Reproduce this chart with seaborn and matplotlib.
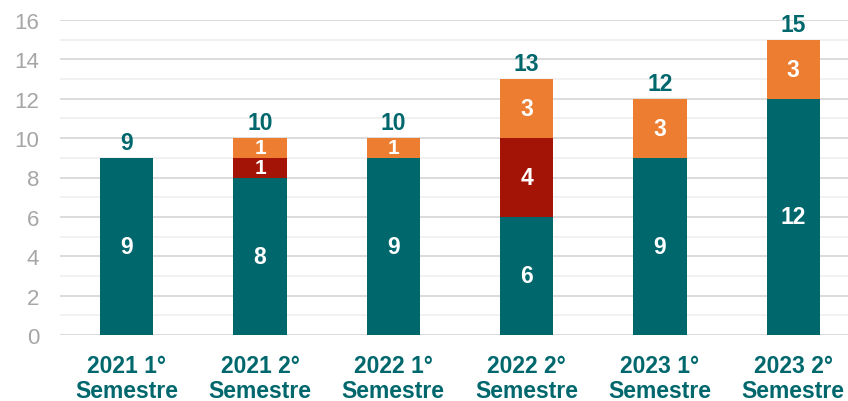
import matplotlib
matplotlib.use("Agg")
import matplotlib.pyplot as plt
import seaborn as sns
import numpy as np

categories = ["2021 1°\nSemestre", "2021 2°\nSemestre", "2022 1°\nSemestre",
              "2022 2°\nSemestre", "2023 1°\nSemestre", "2023 2°\nSemestre"]
teal_vals = [9, 8, 9, 6, 9, 12]
red_vals = [0, 1, 0, 4, 0, 0]
orange_vals = [0, 1, 1, 3, 3, 3]
y_ticks = [0, 2, 4, 6, 8, 10, 12, 14, 16]

TEAL = "#00686D"
RED = "#A31406"
ORANGE = "#ED7D31"

sns.set_style("white")
plt.rcParams["font.family"] = ["Liberation Sans", "DejaVu Sans"]

fig = plt.figure(figsize=(8.48, 4.02), dpi=100)
ax = fig.add_axes([60 / 848, 66 / 402, 800 / 848, 315 / 402])

teal = np.array(teal_vals)
red = np.array(red_vals)
orange = np.array(orange_vals)
level2 = teal + red
total = level2 + orange

for vals, col in [(total, ORANGE), (level2, RED), (teal, TEAL)]:
    sns.barplot(x=categories, y=vals, color=col, width=0.4, saturation=1,
                ax=ax, zorder=3, edgecolor="none", linewidth=0)

ax.set_xlim(-0.5, 5.5)
ax.set_ylim(0, 16)
ax.set_yticks(y_ticks)
ax.set_yticks(np.arange(1, 16, 2), minor=True)
ax.grid(axis="y", which="major", color="#D9D9D9", linewidth=1.3, zorder=0)
ax.grid(axis="y", which="minor", color="#F0F0F0", linewidth=1.3, zorder=0)
ax.grid(axis="x", visible=False)
for s in ax.spines.values():
    s.set_visible(False)
ax.tick_params(axis="y", which="both", length=0, labelsize=16, labelcolor="#A6A6A6", pad=15)
ax.tick_params(axis="x", length=0, labelsize=16.5, labelcolor=TEAL, pad=14)
for lab in ax.get_xticklabels():
    lab.set_fontweight("bold")
    lab.set_linespacing(1.1)
ax.set_xlabel("")
ax.set_ylabel("")

for i in range(len(categories)):
    segs = [(0, teal[i]), (teal[i], red[i]), (level2[i], orange[i])]
    for base, v in segs:
        if v > 0:
            fs = 16.5 if v > 1 else 15
            ax.text(i, base + v / 2, str(v), ha="center", va="center", color="white",
                    fontsize=fs, fontweight="bold", zorder=5)
    ax.annotate(str(total[i]), (i, total[i]), xytext=(0, 3), textcoords="offset points",
                ha="center", va="bottom", color=TEAL, fontsize=16.5, fontweight="bold", zorder=5)

fig.savefig("out.png", dpi=100)
